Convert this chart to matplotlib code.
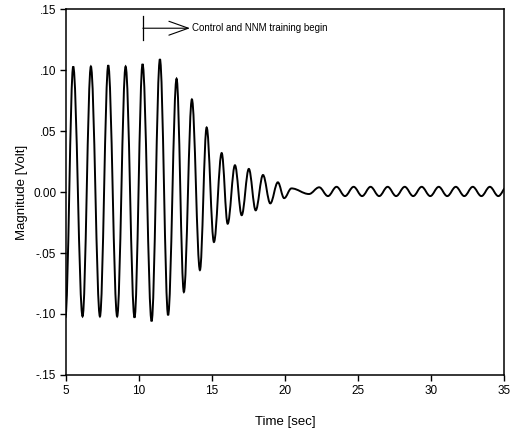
import matplotlib
matplotlib.use("Agg")
import matplotlib.pyplot as plt
from matplotlib.path import Path
from matplotlib.patches import PathPatch

# extrema of the response (peaks and troughs, alternating)
ext_time = [4.96, 5.50, 6.14, 6.71, 7.33, 7.90, 8.51, 9.09, 9.70, 10.25,
            10.87, 11.44, 12.00, 12.58, 13.08, 13.63, 14.18, 14.64, 15.14, 15.67,
            16.08, 16.58, 17.04, 17.53, 18.00, 18.50, 19.00, 19.52, 19.95, 20.45,
            21.65, 22.35, 22.95, 23.54, 24.12, 24.71, 25.29, 25.87, 26.46, 27.04,
            27.62, 28.21, 28.79, 29.37, 29.96, 30.54, 31.12, 31.71, 32.29, 32.87,
            33.46, 34.04, 34.62, 35.20]
ext_volt = [-0.103, 0.103, -0.102, 0.103, -0.102, 0.104, -0.102, 0.103, -0.103, 0.105,
            -0.106, 0.109, -0.101, 0.093, -0.082, 0.076, -0.064, 0.053, -0.041, 0.032,
            -0.026, 0.022, -0.019, 0.019, -0.015, 0.014, -0.0093, 0.0080, -0.0050, 0.0030,
            -0.0016, 0.0039, -0.0033, 0.0043, -0.0033, 0.0043, -0.0033, 0.0043, -0.0033, 0.0043,
            -0.0033, 0.0043, -0.0033, 0.0043, -0.0033, 0.0043, -0.0033, 0.0043, -0.0033, 0.0043,
            -0.0033, 0.0043, -0.0033, 0.0043]

x_ticks = [5, 10, 15, 20, 25, 30, 35]
y_ticks = [-0.15, -0.10, -0.05, 0.00, 0.05, 0.10, 0.15]
y_tick_labels = ["-.15", "-.10", "-.05", "0.00", ".05", ".10", ".15"]

control_start = 10.27
note = "Control and NNM training begin"

plt.rcParams["font.family"] = ["Liberation Sans", "DejaVu Sans"]

fig = plt.figure(figsize=(5.11, 4.38), dpi=100)
ax = fig.add_axes([0.129, 0.144, 0.857, 0.835])

# smooth half-waves between consecutive extrema (horizontal tangent at each extremum)
k = 0.3642
verts = [(ext_time[0], ext_volt[0])]
codes = [Path.MOVETO]
for i in range(1, len(ext_time)):
    t0, v0 = ext_time[i - 1], ext_volt[i - 1]
    t1, v1 = ext_time[i], ext_volt[i]
    dt = t1 - t0
    verts += [(t0 + k * dt, v0), (t1 - k * dt, v1), (t1, v1)]
    codes += [Path.CURVE4] * 3
ax.add_patch(PathPatch(Path(verts, codes), facecolor="none",
                       edgecolor="black", linewidth=1.4))

ax.set_xlim(5, 35)
ax.set_ylim(-0.15, 0.15)
ax.set_xticks(x_ticks)
ax.set_yticks(y_ticks)
ax.set_yticklabels(y_tick_labels)
ax.tick_params(direction="out", length=4, width=1, labelsize=8.5, pad=3)
for s in ax.spines.values():
    s.set_linewidth(1.1)

ax.set_xlabel("Time [sec]", fontsize=9.5, labelpad=14)
ax.set_ylabel("Magnitude [Volt]", fontsize=9.5, labelpad=4)

# marker for the start of control
ax.plot([control_start, control_start], [0.1246, 0.1443], color="black", linewidth=0.9)
ax.annotate("", xy=(13.5, 0.1344), xytext=(control_start, 0.1344),
            arrowprops=dict(arrowstyle="->,head_length=0.7,head_width=0.25",
                            color="black", linewidth=0.8, mutation_scale=20,
                            shrinkA=0, shrinkB=0))
ax.text(13.65, 0.1344, note, fontsize=7, va="center", ha="left")

fig.savefig("out.png", dpi=100)
plt.close(fig)
